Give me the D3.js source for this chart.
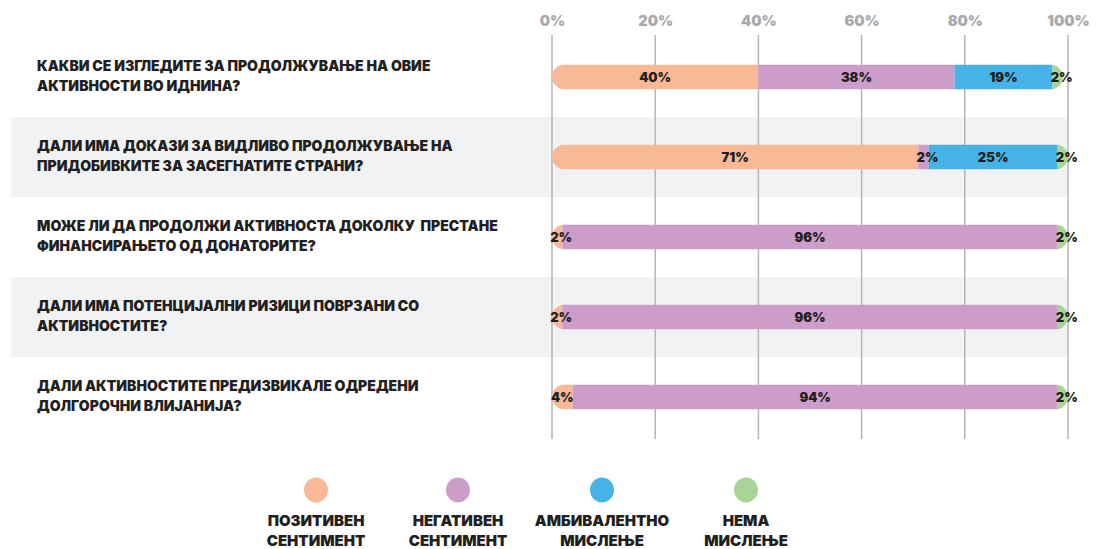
<!DOCTYPE html>
<html>
<head>
<meta charset="utf-8">
<script src="https://cdn.jsdelivr.net/npm/d3@7"></script>
<style>
  html, body { margin: 0; padding: 0; background: #ffffff; }
  svg { display: block; }
  text { font-family: Inter, Roboto, "Liberation Sans", sans-serif; font-weight: 900; }
  .question { white-space: pre; }
</style>
</head>
<body>
<svg id="chart" width="1096" height="549"></svg>
<script>
// Survey questions (each split over two lines)
const questions = [
  ["КАКВИ СЕ ИЗГЛЕДИТЕ ЗА ПРОДОЛЖУВАЊЕ НА ОВИЕ", "АКТИВНОСТИ ВО ИДНИНА?"],
  ["ДАЛИ ИМА ДОКАЗИ ЗА ВИДЛИВО ПРОДОЛЖУВАЊЕ НА", "ПРИДОБИВКИТЕ ЗА ЗАСЕГНАТИТЕ СТРАНИ?"],
  ["МОЖЕ ЛИ ДА ПРОДОЛЖИ АКТИВНОСТА ДОКОЛКУ  ПРЕСТАНЕ", "ФИНАНСИРАЊЕТО ОД ДОНАТОРИТЕ?"],
  ["ДАЛИ ИМА ПОТЕНЦИЈАЛНИ РИЗИЦИ ПОВРЗАНИ СО", "АКТИВНОСТИТЕ?"],
  ["ДАЛИ АКТИВНОСТИТЕ ПРЕДИЗВИКАЛЕ ОДРЕДЕНИ", "ДОЛГОРОЧНИ ВЛИЈАНИЈА?"]
];

// Answer shares (%) per question
const positive   = [40, 71, 2, 2, 4];
const negative   = [38, 2, 96, 96, 94];
const ambivalent = [19, 25, 0, 0, 0];
const noOpinion  = [2, 2, 2, 2, 2];

const seriesNames = [
  ["ПОЗИТИВЕН", "СЕНТИМЕНТ"],
  ["НЕГАТИВЕН", "СЕНТИМЕНТ"],
  ["АМБИВАЛЕНТНО", "МИСЛЕЊЕ"],
  ["НЕМА", "МИСЛЕЊЕ"]
];
const seriesColors = ["#f9b896", "#cc9dc8", "#45b3e6", "#a8d597"];

const tickValues = [0, 20, 40, 60, 80, 100];

const svg = d3.select("#chart");

const x = d3.scaleLinear().domain([0, 100]).range([552, 1068]);
const y = d3.scaleBand().domain(d3.range(questions.length)).range([37, 437]).paddingInner(0).paddingOuter(0);
const barH = 25;

// Alternating row bands
svg.append("g").selectAll("rect")
  .data(d3.range(questions.length).filter(i => i % 2 === 1))
  .join("rect")
  .attr("x", 11)
  .attr("y", i => y(i))
  .attr("width", x(100) - 11)
  .attr("height", y.bandwidth())
  .attr("fill", "#f1f2f4");

// Top axis labels
const axis = d3.axisTop(x)
  .tickValues(tickValues)
  .tickFormat(d => d + "%")
  .tickSize(0)
  .tickPadding(0);

const axisG = svg.append("g").attr("transform", "translate(0,26)").call(axis);
axisG.select(".domain").remove();
axisG.selectAll("text")
  .attr("font-size", 14.5)
  .attr("fill", "#a7a9ac")
  .attr("dy", 0)
  .attr("font-family", "Inter, Roboto, sans-serif");

// Vertical grid lines
svg.append("g").selectAll("line")
  .data(tickValues)
  .join("line")
  .attr("x1", d => x(d)).attr("x2", d => x(d))
  .attr("y1", 35).attr("y2", 439)
  .attr("stroke", "#b5b6b8")
  .attr("stroke-width", 1.5);

// Stacked data
const rows = questions.map((q, i) => {
  const vals = [positive[i], negative[i], ambivalent[i], noOpinion[i]];
  let acc = 0;
  const segs = vals.map((v, k) => {
    const s = { k, v, x0: acc, x1: acc + v };
    acc += v;
    return s;
  });
  return { i, segs, total: acc };
});

const defs = svg.append("defs");
rows.forEach(r => {
  defs.append("clipPath").attr("id", "bar-clip-" + r.i)
    .append("rect")
    .attr("x", x(0))
    .attr("y", y(r.i) + y.bandwidth() / 2 - barH / 2)
    .attr("width", x(r.total) - x(0))
    .attr("height", barH)
    .attr("rx", barH / 2)
    .attr("ry", barH / 2);
});

const barG = svg.append("g").selectAll("g")
  .data(rows)
  .join("g")
  .attr("clip-path", r => "url(#bar-clip-" + r.i + ")");

barG.selectAll("rect")
  .data(r => r.segs.filter(s => s.v > 0).map(s => ({ ...s, i: r.i })))
  .join("rect")
  .attr("x", s => x(s.x0))
  .attr("y", s => y(s.i) + y.bandwidth() / 2 - barH / 2)
  .attr("width", s => x(s.x1) - x(s.x0))
  .attr("height", barH)
  .attr("fill", s => seriesColors[s.k]);

// Value labels
svg.append("g").selectAll("text")
  .data(rows.flatMap(r => r.segs.filter(s => s.v > 0).map(s => ({ ...s, i: r.i }))))
  .join("text")
  .attr("x", s => {
    const c = (x(s.x0) + x(s.x1)) / 2;
    return s.v <= 2 ? c + 4 : c;
  })
  .attr("y", s => y(s.i) + y.bandwidth() / 2 + 5)
  .attr("text-anchor", "middle")
  .attr("font-size", 13)
  .attr("fill", "#231f20")
  .text(s => s.v + "%");

// Question labels
const qG = svg.append("g").selectAll("text")
  .data(questions)
  .join("text")
  .attr("class", "question")
  .attr("x", 37)
  .attr("y", (q, i) => y(i) + y.bandwidth() / 2 - 6)
  .attr("font-size", 14)
  .attr("fill", "#231f20");
qG.selectAll("tspan")
  .data(q => q)
  .join("tspan")
  .attr("x", 37)
  .attr("dy", (d, j) => j === 0 ? 0 : 20)
  .text(d => d);

// Legend
const legendX = [316, 458, 602, 746];
const lg = svg.append("g").selectAll("g")
  .data(seriesNames)
  .join("g")
  .attr("transform", (d, k) => `translate(${legendX[k]},0)`);
lg.append("ellipse")
  .attr("cx", 0).attr("cy", 490)
  .attr("rx", 12).attr("ry", 12.5)
  .attr("fill", (d, k) => seriesColors[k]);
lg.append("text")
  .attr("text-anchor", "middle")
  .attr("y", 526)
  .attr("font-size", 15)
  .attr("fill", "#231f20")
  .selectAll("tspan")
  .data(d => d)
  .join("tspan")
  .attr("x", 0)
  .attr("dy", (d, j) => j === 0 ? 0 : 20)
  .text(d => d);
</script>
</body>
</html>
